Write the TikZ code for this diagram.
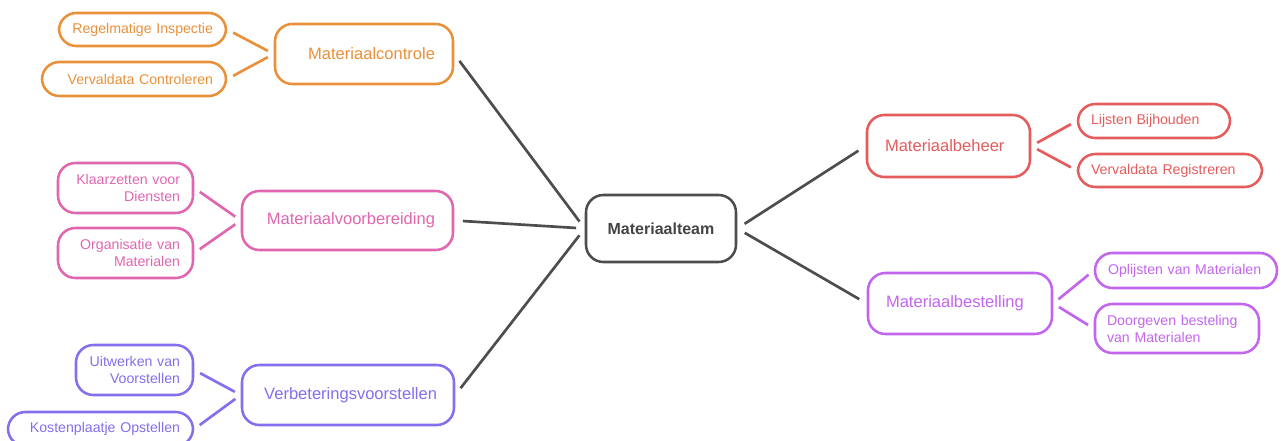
\documentclass[tikz,border=0pt]{standalone}
\usepackage{fontspec}
\setmainfont{Liberation Sans}
\definecolor{corange}{HTML}{E8913A}
\definecolor{cred}{HTML}{E55C5C}
\definecolor{cpink}{HTML}{E066B0}
\definecolor{cviolet}{HTML}{8270EE}
\definecolor{cpurple}{HTML}{C366EE}
\definecolor{cgray}{HTML}{4D4D4D}
\definecolor{cgraytext}{HTML}{444444}
\tikzset{
  box/.style={draw, rounded corners=13pt, line width=1.9pt, inner sep=0pt, fill=white},
  tint/.style={draw=#1, text=#1},
  big/.style={box, font=\fontsize{12.4}{14.5}\selectfont},
  small/.style={box, font=\fontsize{10.6}{12.8}\selectfont},
  conn/.style={line width=2pt, shorten >=5pt, shorten <=5pt},
  mainconn/.style={conn, draw=cgray, shorten >=6.5pt, shorten <=6.5pt},
}
% #1 style, #2 x, #3 y, #4 width px, #5 height px, #6 name, #7 padding px
\newcommand{\bx}[7]{\node[#1, minimum width=#4*0.75pt, minimum height=#5*0.75pt, text width=(#4-2*#7)*0.75pt] (#6) at (#2,#3)}
\begin{document}
\begin{tikzpicture}[x=0.75pt, y=-0.75pt]
\useasboundingbox (0,0) rectangle (1285,441);
% center
\bx{box, draw=cgray, text=cgraytext, align=center, font=\fontsize{12}{14}\selectfont\bfseries}{661}{228.5}{150}{67}{team}{10} {Materiaalteam};
% Materiaalcontrole
\bx{big, tint=corange, align=right}{364}{54}{178}{60}{mc}{18} {Materiaalcontrole};
\bx{small, tint=corange, align=right}{142.5}{29.5}{167}{33}{ri}{13} {Regelmatige Inspectie};
\bx{small, tint=corange, align=right}{134}{79}{184}{34}{vc}{13} {Vervaldata Controleren};
% Materiaalvoorbereiding
\bx{big, tint=cpink, align=right}{347.5}{220.5}{211}{59}{mv}{18} {Materiaalvoorbereiding};
\bx{small, tint=cpink, align=right}{125.5}{188}{135}{50}{kd}{13} {Klaarzetten voor\\Diensten};
\bx{small, tint=cpink, align=right}{125.5}{253}{135}{50}{om}{13} {Organisatie van\\Materialen};
% Verbeteringsvoorstellen
\bx{big, tint=cviolet, align=right}{348}{395}{212}{60}{vv}{17} {Verbeteringsvoorstellen};
\bx{small, tint=cviolet, align=right}{134.5}{370}{117}{50}{uv}{13} {Uitwerken van\\Voorstellen};
\bx{small, tint=cviolet, align=right}{100.5}{429}{185}{34}{ko}{13} {Kostenplaatje Opstellen};
% Materiaalbeheer
\bx{big, tint=cred, align=left}{948.5}{146}{163}{62}{mb}{18} {Materiaalbeheer};
\bx{small, tint=cred, align=left}{1154}{121}{152}{34}{lb}{13} {Lijsten Bijhouden};
\bx{small, tint=cred, align=left}{1170}{170.5}{184}{33}{vr}{13} {Vervaldata Registreren};
% Materiaalbestelling
\bx{big, tint=cpurple, align=left}{960}{303.5}{184}{61}{mbs}{18} {Materiaalbestelling};
\bx{small, tint=cpurple, align=left}{1186}{270.5}{182}{35}{ov}{13} {Oplijsten van Materialen};
\bx{small, tint=cpurple, align=left}{1177}{328.5}{164}{49}{db}{12} {Doorgeven besteling\\van Materialen};
% connectors
\draw[mainconn] (mc.east) -- (team.west);
\draw[mainconn] (mv.east) -- (team.west);
\draw[mainconn] (vv.east) -- (team.west);
\draw[mainconn] (team.east) -- (mb.west);
\draw[mainconn] (team.east) -- (mbs.west);
\draw[conn, draw=corange] (ri.east) -- (mc.west);
\draw[conn, draw=corange] (vc.east) -- (mc.west);
\draw[conn, draw=cpink] (kd.east) -- (mv.west);
\draw[conn, draw=cpink] (om.east) -- (mv.west);
\draw[conn, draw=cviolet] (uv.east) -- (vv.west);
\draw[conn, draw=cviolet] (ko.east) -- (vv.west);
\draw[conn, draw=cred] (mb.east) -- (lb.west);
\draw[conn, draw=cred] (mb.east) -- (vr.west);
\draw[conn, draw=cpurple] (mbs.east) -- (ov.west);
\draw[conn, draw=cpurple] (mbs.east) -- (db.west);
\end{tikzpicture}
\end{document}
